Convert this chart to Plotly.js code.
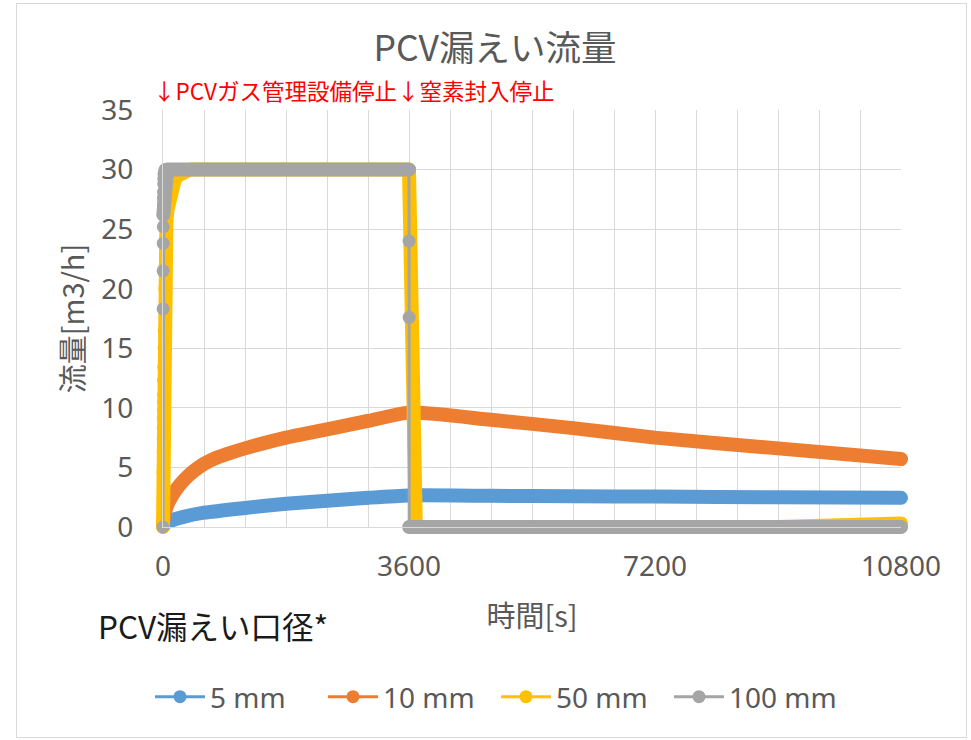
<!DOCTYPE html>
<html>
<head>
<meta charset="utf-8">
<script src="https://cdn.plot.ly/plotly-3.0.1.min.js"></script>
<style>
  html, body { margin: 0; padding: 0; background: #fff; }
  #chart { width: 971px; height: 740px; }
  #frame { position: absolute; left: 16px; top: 3px; width: 951px; height: 735px;
           border: 1px solid #D9D9D9; pointer-events: none; box-sizing: border-box; }
  .scatterlayer .js-line { stroke-linejoin: round !important; stroke-linecap: round !important; }
</style>
</head>
<body>
<div id="chart"></div>
<div id="frame"></div>
<script>
// ---- data (time [s], flow [m3/h]) ----
const seriesNames = ['5 mm', '10 mm', '50 mm', '100 mm'];
const seriesColors = ['#5B9BD5', '#ED7D31', '#FFC000', '#A5A5A5'];

const t5  = [0, 30, 100, 300, 600, 1200, 1800, 2400, 3000, 3600, 4800, 6000, 7200, 9000, 10800];
const v5  = [0.05, 0.3, 0.5, 0.85, 1.2, 1.6, 1.95, 2.2, 2.45, 2.65, 2.62, 2.58, 2.55, 2.5, 2.45];

const t10 = [0, 20, 60, 120, 200, 300, 450, 600, 800, 1000, 1200, 1800, 2400, 3000, 3600, 4800, 6000, 7200, 9000, 10800];
const v10 = [0.4, 1.0, 1.8, 2.5, 3.2, 3.9, 4.7, 5.3, 5.85, 6.25, 6.6, 7.5, 8.2, 8.9, 9.6, 9.0, 8.3, 7.5, 6.6, 5.7];

const t50 = [0, 1, 2, 3, 4, 5, 6, 7, 8, 10, 12, 15, 18, 22, 26, 32, 40, 50, 65, 80, 100, 130, 170, 220, 300, 400,
             600, 1200, 1800, 2400, 3000, 3600, 3700, 5400, 7200, 9000, 10800];
const v50 = [0, 4.6, 6.3, 7.4, 8.3, 9.1, 9.8, 10.5, 11.1, 12.3, 13.4, 15.0, 16.5, 18.3, 20.0, 22.0, 24.2, 25.6, 26.6, 27.2, 27.8, 28.5, 29.1, 29.5, 29.8, 30,
             30, 30, 30, 30, 30, 30, 0, 0, 0, 0, 0.3];

const t100 = [0, 1, 2, 3, 4, 5, 6, 7, 8, 10, 12, 15, 20, 30, 60, 600, 1200, 1800, 2400, 3000, 3600,
              3601, 3602, 3603, 3700, 5400, 7200, 9000, 10800];
const v100 = [0, 18.3, 21.5, 23.8, 25.2, 26.2, 27.0, 27.6, 28.1, 28.8, 29.2, 29.6, 29.8, 30, 30, 30, 30, 30, 30, 30, 30,
              24.0, 17.6, 0, 0, 0, 0, 0, 0];

const xTickVals = [0, 3600, 7200, 10800];
const yTickVals = [0, 5, 10, 15, 20, 25, 30, 35];

// ---- traces ----
const latin = 'Noto Sans, Noto Sans CJK JP, sans-serif';
const cjk = 'Noto Sans CJK JP, Noto Sans, sans-serif';
const txtColor = '#595959';

const series = [
  {t: t5, v: v5, shape: 'spline'},
  {t: t10, v: v10, shape: 'spline'},
  {t: t50, v: v50, shape: 'linear'},
  {t: t100, v: v100, shape: 'linear'}
];

const traces = [];
series.forEach((s, i) => {
  // band: the dense-marker look of the original (thick stroke)
  let bandY = s.v;
  if (i === 3) {
    // gray: only the plateaus are densely sampled
    bandY = s.v.map((v, k) => (v >= 26 || (s.t[k] > 3600 && v === 0)) ? v : null);
  }
  traces.push({
    x: s.t, y: bandY, type: 'scatter', mode: 'lines', showlegend: false, hoverinfo: 'skip',
    connectgaps: false, cliponaxis: false,
    line: {color: seriesColors[i], width: 14, shape: s.shape, smoothing: 0.6}
  });
  traces.push({
    x: s.t, y: s.v, type: 'scatter', mode: 'lines+markers', name: seriesNames[i], cliponaxis: false,
    line: {color: seriesColors[i], width: 3, shape: s.shape, smoothing: 0.6},
    marker: {color: seriesColors[i], size: 13, symbol: 'circle'}
  });
});

const layout = {
  width: 971, height: 740,
  margin: {l: 163, r: 70, t: 110, b: 213},
  paper_bgcolor: '#ffffff', plot_bgcolor: '#ffffff',
  font: {family: latin, color: txtColor},
  showlegend: true,
  title: {
    text: 'PCV漏えい流量', font: {family: cjk, size: 35.5, color: txtColor},
    xref: 'container', x: 495 / 971, xanchor: 'center',
    yref: 'container', y: 1 - 49 / 740, yanchor: 'middle'
  },
  xaxis: {
    range: [0, 10800], tickvals: xTickVals, ticktext: xTickVals.map(String),
    showgrid: true, gridcolor: '#D9D9D9', gridwidth: 1,
    minor: {dtick: 600, tick0: 0, showgrid: true, gridcolor: '#D9D9D9', gridwidth: 1},
    showline: true, linecolor: '#D9D9D9', linewidth: 1, zeroline: false,
    ticks: '', ticklabelstandoff: 14,
    tickfont: {family: latin, size: 28, color: txtColor},
    title: {text: '時間[s]', font: {family: cjk, size: 29, color: txtColor}, standoff: 24}
  },
  yaxis: {
    range: [0, 35], tickvals: yTickVals,
    showgrid: true, gridcolor: '#D9D9D9', gridwidth: 1,
    showline: true, linecolor: '#D9D9D9', linewidth: 1, zeroline: false,
    ticks: '', ticklabelstandoff: 23,
    tickfont: {family: latin, size: 28, color: txtColor},
    title: {text: '流量[m3/h]', font: {family: cjk, size: 29, color: txtColor}, standoff: 8}
  },
  legend: {
    orientation: 'h', xref: 'paper', x: (150 - 163) / 738, xanchor: 'left',
    yref: 'paper', y: (527 - 697) / 417, yanchor: 'middle',
    font: {family: latin, size: 28, color: txtColor},
    itemwidth: 50, entrywidth: 108, entrywidthmode: 'pixels',
    traceorder: 'normal', bgcolor: 'rgba(0,0,0,0)'
  },
  annotations: [
    {xref: 'x', x: 0, yref: 'paper', y: (527 - 90) / 417, xanchor: 'left', yanchor: 'middle',
     xshift: -12, text: '↓PCVガス管理設備停止↓窒素封入停止', showarrow: false,
     font: {family: cjk, size: 22.5, color: '#FF0000'}},
    {xref: 'paper', x: (96 - 163) / 738, yref: 'paper', y: (527 - 625) / 417, xanchor: 'left', yanchor: 'middle',
     text: 'PCV漏えい口径*', showarrow: false,
     font: {family: cjk, size: 31.5, color: '#1a1a1a'}}
  ]
};

Plotly.newPlot('chart', traces, layout, {displayModeBar: false, staticPlot: true}).then(() => {
  // let the thick bands show fully at the axis edges, and keep the last legend label whole
  document.querySelectorAll('#chart .cartesianlayer [clip-path], #chart .legend [clip-path]')
    .forEach(e => e.removeAttribute('clip-path'));
});
</script>
</body>
</html>
